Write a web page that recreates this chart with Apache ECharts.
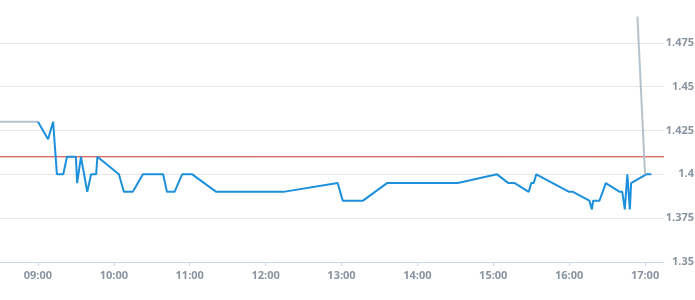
<!DOCTYPE html>
<html><head><meta charset="utf-8">
<script src="https://cdn.jsdelivr.net/npm/echarts@6/dist/echarts.min.js"></script>
<style>html,body{margin:0;padding:0;background:#fff}#c{width:695px;height:300px}</style>
</head><body><div id="c"></div>
<script>
// Main session (blue)
const mainTimes = ["09:00","09:08","09:12","09:15","09:20","09:23","09:30","09:31","09:34","09:39","09:42","09:46","09:47","10:04","10:05","10:08","10:15","10:23","10:39","10:42","10:48","10:54","11:02","11:21","12:14","12:57","13:01","13:17","13:36","14:32","15:03","15:12","15:17","15:28","15:30","15:32","15:34","16:00","16:03","16:16","16:18","16:19","16:24","16:29","16:40","16:42","16:44","16:46","16:48","16:49","17:01","17:05"];
const mainValues = [1.43,1.42,1.43,1.40,1.40,1.41,1.41,1.395,1.41,1.39,1.40,1.40,1.41,1.40,1.40,1.39,1.39,1.40,1.40,1.39,1.39,1.40,1.40,1.39,1.39,1.395,1.385,1.385,1.395,1.395,1.40,1.395,1.395,1.39,1.395,1.395,1.40,1.39,1.39,1.385,1.38,1.385,1.385,1.395,1.39,1.39,1.38,1.40,1.38,1.395,1.40,1.40];
// Pre session (grey)
const preTimes = ["08:30","09:00"];
const preValues = [1.43,1.43];
// Post session (grey)
const postTimes = ["16:54","17:00"];
const postValues = [1.49,1.40];
// Reference level (red)
const refLevel = 1.41;
// Axis ticks
const xTickLabels = ["09:00","10:00","11:00","12:00","13:00","14:00","15:00","16:00","17:00"];
const xRange = ["08:30","17:15"];
const yMin = 1.35, yMax = 1.5, yStep = 0.025;

const toMin = s => { const [h,m] = s.split(":").map(Number); return h*60+m; };
const fmt = v => { const h = Math.floor(v/60), m = Math.round(v%60); return String(h).padStart(2,"0")+":"+String(m).padStart(2,"0"); };
const pairs = (t,v) => t.map((s,i)=>[toMin(s), v[i]]);
const xTicks = xTickLabels.map(toMin);

const labelStyle = {color:'#8994a0', fontFamily:'"Open Sans", sans-serif', fontSize:11, fontWeight:'bold'};

const chart = echarts.init(document.getElementById('c'), null, {renderer:'canvas'});
chart.setOption({
  animation:false,
  grid:{left:0, right:31, top:-1, bottom:38, containLabel:false, outerBoundsMode:'none'},
  xAxis:{
    type:'value', min:toMin(xRange[0]), max:toMin(xRange[1]),
    axisLine:{show:true, lineStyle:{color:'#ccd6eb', width:1}},
    axisTick:{show:true, customValues:xTicks, length:4, lineStyle:{color:'#ccd6eb'}},
    axisLabel:Object.assign({customValues:xTicks, formatter:v=>fmt(v), margin:8}, labelStyle),
    splitLine:{show:false}
  },
  yAxis:{
    type:'value', position:'right', min:yMin, max:yMax, interval:yStep,
    axisLine:{show:false}, axisTick:{show:false},
    axisLabel:Object.assign({align:'right', margin:30, showMaxLabel:false, formatter:v=>String(+v.toFixed(3))}, labelStyle),
    splitLine:{show:true, lineStyle:{color:'#e6e6e6', width:1}}
  },
  series:[
    {type:'line', data:xRange.map(s=>[toMin(s), refLevel]), symbol:'none', silent:true, lineStyle:{color:'#c8332b', width:1}, z:1},
    {type:'line', data:pairs(preTimes,preValues), symbol:'none', lineStyle:{color:'#b5c2cc', width:2}, z:2},
    {type:'line', data:pairs(mainTimes,mainValues), symbol:'none', lineStyle:{color:'#1d90dc', width:2}, z:3},
    {type:'line', data:pairs(postTimes,postValues), symbol:'none', lineStyle:{color:'#b5c2cc', width:2}, z:4}
  ]
});
</script></body></html>
